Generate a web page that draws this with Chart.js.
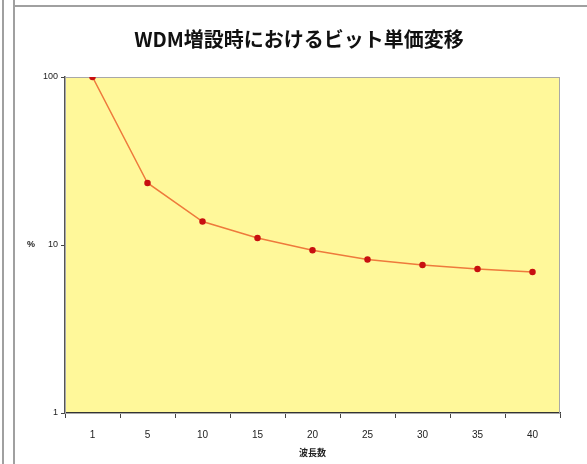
<!DOCTYPE html>
<html lang="ja">
<head>
    <meta charset="UTF-8">
    <title>WDM増設時におけるビット単価変移</title>
    <style>
        body { margin: 0; background: #fff; }
        .wrap { position: relative; width: 587px; height: 464px; overflow: hidden; }
        .line { position: absolute; background: #a0a0a0; }
        canvas { position: absolute; left: 0; top: 0; }
    </style>
</head>
<body>
    <div class="wrap">
        <canvas id="chart" width="587" height="464"></canvas>
        <div class="line" style="left:2px;top:0;width:2px;height:464px"></div>
        <div class="line" style="left:13px;top:0;width:2px;height:464px"></div>
        <div class="line" style="left:15px;top:5px;width:572px;height:2px"></div>
    </div>

    <script src="https://cdn.jsdelivr.net/npm/chart.js"></script>
    <script>
        const categories = ["1", "5", "10", "15", "20", "25", "30", "35", "40"]
        const bitPrice = [100, 23.4, 13.8, 11.0, 9.3, 8.2, 7.6, 7.2, 6.9]
        const yTicks = [1, 10, 100]

        const titleText = "WDM増設時におけるビット単価変移"
        const xTitle = "波長数"
        const yTitle = "%"

        const smallFont = { family: "'Liberation Sans Narrow', 'Liberation Sans', sans-serif", size: 10 }

        // yellow plot area + border, and the unrotated "%" label
        const plotBg = {
            id: 'plotBg',
            beforeDraw(chart) {
                const { ctx, chartArea: a } = chart
                ctx.save()
                ctx.fillStyle = '#fff89a'
                ctx.fillRect(a.left, a.top, a.right - a.left, a.bottom - a.top)
                ctx.restore()
            },
            beforeDatasetsDraw(chart) {
                const { ctx, chartArea: a } = chart
                ctx.save()
                ctx.strokeStyle = '#a8a8a8'
                ctx.lineWidth = 1
                ctx.strokeRect(a.left + 0.5, a.top + 0.5, a.right - a.left - 1, a.bottom - a.top)
                ctx.restore()
            },
            afterDraw(chart) {
                const { ctx, chartArea: a } = chart
                ctx.save()
                ctx.fillStyle = '#222'
                ctx.font = "bold 9px 'Liberation Sans', sans-serif"
                ctx.textAlign = 'center'
                ctx.textBaseline = 'middle'
                ctx.fillText(yTitle, a.left - 34, chart.scales.y.getPixelForValue(10))
                ctx.restore()
            }
        }

        new Chart(document.getElementById("chart"), {
            type: 'line',
            data: {
                labels: categories,
                datasets: [{
                    data: bitPrice,
                    borderColor: '#ee7a3c',
                    borderWidth: 1.5,
                    pointRadius: 2.5,
                    pointBackgroundColor: '#c81010',
                    pointBorderColor: '#c81010',
                    tension: 0
                }]
            },
            options: {
                responsive: false,
                animation: false,
                layout: { padding: { left: 38, right: 27, top: 7, bottom: 4 } },
                plugins: {
                    legend: { display: false },
                    tooltip: { enabled: false },
                    title: {
                        display: true,
                        text: titleText,
                        color: '#111',
                        font: { family: "'Noto Sans CJK JP', sans-serif", size: 20, weight: 'bold' },
                        padding: { top: 20, bottom: 26 }
                    }
                },
                scales: {
                    x: {
                        type: 'category',
                        offset: true,
                        grid: { display: true, drawOnChartArea: false, offset: true, tickLength: 5, color: '#444' },
                        border: { color: '#333', width: 1.5 },
                        ticks: { color: '#222', font: smallFont, padding: 11, maxRotation: 0 },
                        title: { display: true, text: xTitle, color: '#222', font: { family: "'Noto Sans CJK JP', sans-serif", size: 9, weight: 'bold' }, padding: { top: 0, bottom: 2 } },
                        afterFit(scale) { scale.height = 47 }
                    },
                    y: {
                        type: 'logarithmic',
                        min: 1,
                        max: 100,
                        afterBuildTicks(scale) { scale.ticks = yTicks.map(v => ({ value: v })) },
                        grid: { display: true, drawOnChartArea: false, tickLength: 4, color: '#444' },
                        border: { color: '#555', width: 1.5 },
                        ticks: { color: '#222', font: { ...smallFont, size: 9 }, padding: 3, callback: v => String(v) },
                        afterFit(scale) { scale.width = 27 }
                    }
                }
            },
            plugins: [plotBg]
        })
    </script>
</body>
</html>
